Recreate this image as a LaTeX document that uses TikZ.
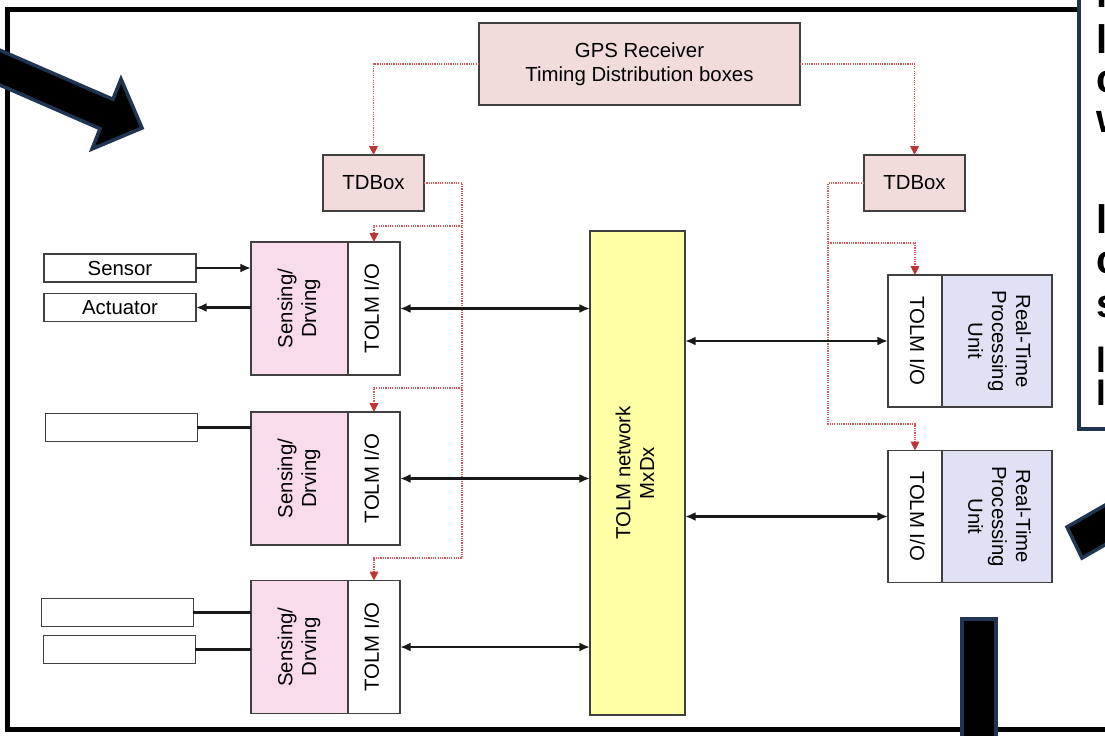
\documentclass[tikz,border=0pt]{standalone}
\usepackage{fontspec}
\setmainfont{Liberation Sans}
\usepackage{graphicx}
\usepackage{tikz}
\usetikzlibrary{positioning, arrows.meta}
\definecolor{boxgray}{HTML}{404040}
\definecolor{tdpink}{HTML}{F2DCDB}
\definecolor{senspink}{HTML}{F9DCEB}
\definecolor{rtlav}{HTML}{E1E1F5}
\definecolor{netyellow}{HTML}{FFFFA6}
\definecolor{timered}{HTML}{D43A3A}
\definecolor{slidenavy}{HTML}{1F3552}

\newcommand{\uptext}[1]{\rotatebox{90}{\begin{tabular}{@{}c@{}}#1\end{tabular}}}
\newcommand{\downtext}[1]{\rotatebox{-90}{\begin{tabular}{@{}c@{}}#1\end{tabular}}}

\tikzset{
  blk/.style={draw=boxgray, line width=1.1pt, inner sep=0pt, outer sep=0pt,
              font=\fontsize{11.6}{13.6}\selectfont},
  tdbox/.style={blk, fill=tdpink, minimum width=2.02cm, minimum height=1.12cm},
  sensbox/.style={blk, fill=senspink, minimum width=1.94cm, minimum height=2.66cm},
  iobox/.style={blk, fill=white, minimum width=1.04cm, minimum height=2.66cm},
  rtbox/.style={blk, fill=rtlav, minimum width=2.2cm, minimum height=2.64cm},
  devbox/.style={blk, fill=white, minimum width=3.04cm, minimum height=0.56cm},
  tline/.style={timered!85, line width=0.9pt, dash pattern=on 0.7pt off 0.6pt,
                -{Triangle[length=5pt, width=4.8pt, color=timered!90!black]}},
  sig/.style={line width=1.2pt, black!90},
  tip/.tip={Latex[length=6pt, width=5pt]},
  bigarrow/.style={fill=black, draw=slidenavy, line width=2pt, line join=miter},
}

\begin{document}
\begin{tikzpicture}[x=0.02cm, y=-0.02cm]
  \useasboundingbox (0,0) rectangle (1105,735);
  % slide frame
  \draw[line width=2.8pt] (7.5,9.5) rectangle (1140,729.5);

  % timing distribution
  \node[blk, fill=tdpink, minimum width=6.42cm, minimum height=1.64cm, align=center]
    (gps) at (639.5,64) {GPS Receiver\\Timing Distribution boxes};
  \node[tdbox] (tdl) at (373.5,183) {TDBox};
  \node[tdbox] (tdr) at (914.5,183) {TDBox};

  % sensing / driving blocks
  \node[sensbox] (sens1) at (299.5,308.5) {\uptext{Sensing/\\Drving}};
  \node[iobox, right=0pt of sens1] (io1) {\uptext{TOLM I/O}};
  \node[sensbox] (sens2) at (299.5,478.5) {\uptext{Sensing/\\Drving}};
  \node[iobox, right=0pt of sens2] (io2) {\uptext{TOLM I/O}};
  \node[sensbox] (sens3) at (299.5,647) {\uptext{Sensing/\\Drving}};
  \node[iobox, right=0pt of sens3] (io3) {\uptext{TOLM I/O}};

  % devices
  \node[devbox] (sensor) at (120,268) {Sensor};
  \node[devbox] (actuator) at (120,307.5) {Actuator};
  \node[devbox] (dev2) at (121.5,427.5) {};
  \node[devbox] (dev3a) at (117.5,612.5) {};
  \node[devbox] (dev3b) at (119.5,649.5) {};

  % network
  \node[blk, fill=netyellow, minimum width=1.9cm, minimum height=9.68cm]
    (net) at (637.5,473) {\uptext{TOLM network\\MxDx}};

  % real-time units
  \node[iobox, minimum width=1.08cm, minimum height=2.64cm] (rio1) at (915,341) {\downtext{TOLM I/O}};
  \node[rtbox, right=0pt of rio1] (rt1) {\downtext{Real-Time\\Processing\\Unit}};
  \node[iobox, minimum width=1.08cm, minimum height=2.64cm] (rio2) at (915,516.5) {\downtext{TOLM I/O}};
  \node[rtbox, right=0pt of rio2] (rt2) {\downtext{Real-Time\\Processing\\Unit}};

  % timing lines
  \coordinate (lb1) at (462,226);
  \coordinate (lb2) at (462,388);
  \coordinate (lb3) at (462,558);
  \coordinate (rb1) at (828,243);
  \coordinate (rb2) at (828,424);
  \draw[tline] (gps.west) -| (tdl.north);
  \draw[tline] (gps.east) -| (tdr.north);
  \draw[tline] (tdl.east) -| (lb3) -| (io3.north);
  \draw[tline] (lb1) -| (io1.north);
  \draw[tline] (lb2) -| (io2.north);
  \draw[tline] (tdr.west) -| (rb2) -| (rio2.north);
  \draw[tline] (rb1) -| (rio1.north);

  % signals
  \draw[sig, -tip] (sensor.east) -- (sensor.east -| sens1.west);
  \draw[sig, tip-] (actuator.east) -- (actuator.east -| sens1.west);
  \draw[sig] (dev2.east) -- (dev2.east -| sens2.west);
  \draw[sig] (dev3a.east) -- (dev3a.east -| sens3.west);
  \draw[sig] (dev3b.east) -- (dev3b.east -| sens3.west);
  \draw[sig, tip-tip] (io1.east) -- (io1.east -| net.west);
  \draw[sig, tip-tip] (io2.east) -- (io2.east -| net.west);
  \draw[sig, tip-tip] (io3.east) -- (io3.east -| net.west);
  \draw[sig, tip-tip] (rio1.west) -- (rio1.west -| net.east);
  \draw[sig, tip-tip] (rio2.west) -- (rio2.west -| net.east);

  % slide overlay
  \draw[bigarrow] (-40,32.8) -- (112.9,99.3) -- (121,79) -- (142,128)
    -- (92,149) -- (100.1,128.7) -- (-40,67.7) -- cycle;
  \draw[bigarrow] (1067,527) -- (1154,477) -- (1169,508) -- (1082,558) -- cycle;
  \draw[bigarrow] (962,619) rectangle (996,760);
  \draw[slidenavy, line width=2pt, fill=white] (1079,-20) rectangle (1150,429);
  \foreach \yy/\ch/\fs [count=\i] in {7/l/22.7, 53/l/22.7, 92/c/22.7, 132/w/22.7,
      233/l/22.7, 273/c/22.7, 317/s/22.7, 372/l/20, 405/l/20}
    \node[anchor=base west, inner sep=0pt, font=\bfseries\fontsize{\fs}{\fs}\selectfont]
      (cut\i) at (1096,\yy) {\ch};
\end{tikzpicture}
\end{document}
